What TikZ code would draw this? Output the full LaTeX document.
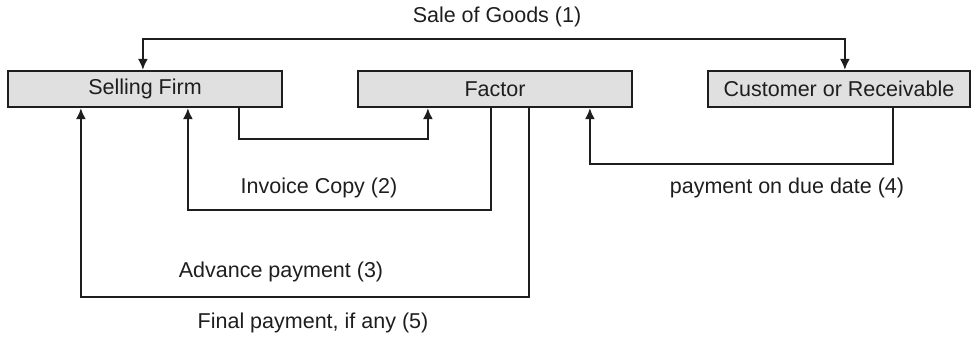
\documentclass[tikz,border=0pt]{standalone}
\usepackage{fontspec}
\setmainfont{Liberation Sans}
\usetikzlibrary{arrows.meta,calc}
\definecolor{boxfill}{HTML}{E0E0E0}
\definecolor{ink}{HTML}{1E1E1E}
\begin{document}
\begin{tikzpicture}[x=1pt,y=-1pt,
  font=\fontsize{21.5}{26}\selectfont,
  party/.style={draw=ink,line width=2.2pt,fill=boxfill,minimum height=36pt,
    inner sep=0pt,text=ink},
  tip/.style={Latex[length=11pt,width=10pt]},
  flow/.style={draw=ink,line width=2pt,-{Latex[length=11pt,width=10pt]}},
  twoway/.style={draw=ink,line width=2pt,{Latex[length=11pt,width=10pt]}-{Latex[length=11pt,width=10pt]}},
  lbl/.style={text=ink,inner sep=0pt}]
\useasboundingbox (0,0) rectangle (974,337);

% parties
\node[party,minimum width=274pt] (sf) at (145,89) {Selling Firm};
\node[party,minimum width=274pt] (fa) at (495,89) {Factor};
\node[party,minimum width=262pt] (cu) at (839,89) {Customer or Receivable};

% (1) goods go from the selling firm to the customer
\draw[twoway] ($(sf.north west)+(136,0)$) -- ++(0,-31) -| ($(cu.north west)+(138,0)$);
\node[lbl] (l1) at (497,17) {Sale of Goods (1)};

% firm passes the receivable to the factor
\draw[flow] ($(sf.south west)+(232,0)$) -- ++(0,31) -| ($(fa.south west)+(71,0)$);

% (2) invoice copy back to the firm
\draw[flow] ($(fa.south west)+(134,0)$) -- ++(0,102) -| ($(sf.south west)+(181,0)$);
\node[lbl] (l2) at (319,188) {Invoice Copy (2)};

% (3)/(5) advance and final payment
\draw[flow] ($(fa.south west)+(172,0)$) -- ++(0,189) -| ($(sf.south west)+(74,0)$);
\node[lbl] (l3) at (281,272) {Advance payment (3)};
\node[lbl] (l5) at (313,323) {Final payment, if any (5)};

% (4) customer pays the factor
\draw[flow] ($(cu.south west)+(186,0)$) -- ++(0,56) -| ($(fa.south west)+(233,0)$);
\node[lbl] (l4) at (787,188) {payment on due date (4)};
\end{tikzpicture}
\end{document}
